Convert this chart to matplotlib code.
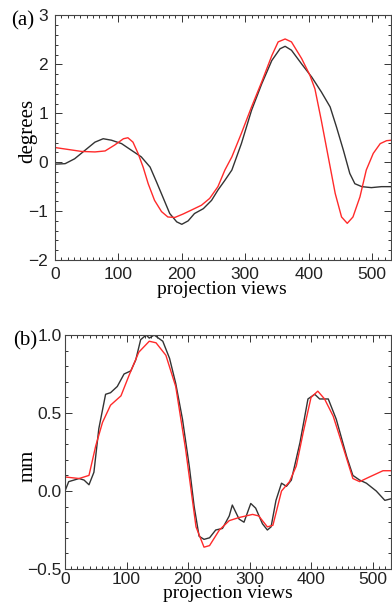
import matplotlib
matplotlib.use("Agg")
import matplotlib.pyplot as plt
from matplotlib.ticker import MultipleLocator

# ---- Panel (a): degrees ----
a_black_x = [0, 16, 31, 47, 63, 76, 89, 105, 121, 136, 150, 160, 171, 181, 192, 200, 210,
             220, 234, 247, 257, 268, 279, 294, 310, 326, 342, 355, 363, 373, 389, 405, 420,
             434, 444, 455, 465, 473, 484, 499, 515, 531]
a_black_y = [-0.04, -0.03, 0.07, 0.24, 0.41, 0.48, 0.45, 0.38, 0.24, 0.11, -0.1, -0.4, -0.74,
             -1.05, -1.22, -1.27, -1.2, -1.05, -0.95, -0.78, -0.57, -0.37, -0.16, 0.38, 1.06,
             1.6, 2.08, 2.32, 2.37, 2.29, 2.01, 1.74, 1.44, 1.13, 0.72, 0.24, -0.23, -0.44,
             -0.5, -0.52, -0.5, -0.5]
a_red_x = [0, 21, 42, 63, 79, 94, 108, 115, 123, 131, 139, 147, 157, 168, 178, 189, 202, 215,
           231, 244, 257, 268, 279, 294, 310, 326, 342, 352, 363, 373, 389, 402, 410, 420,
           431, 442, 452, 461, 470, 481, 491, 502, 513, 523, 531]
a_red_y = [0.3, 0.26, 0.22, 0.21, 0.23, 0.35, 0.48, 0.5, 0.41, 0.18, -0.1, -0.44, -0.78,
           -1.01, -1.12, -1.13, -1.06, -0.98, -0.88, -0.74, -0.5, -0.16, 0.11, 0.59, 1.13,
           1.64, 2.18, 2.46, 2.52, 2.46, 2.12, 1.78, 1.5, 0.86, 0.11, -0.64, -1.12, -1.25,
           -1.12, -0.71, -0.16, 0.18, 0.38, 0.44, 0.45]

# ---- Panel (b): mm ----
b_black_x = [0, 6, 23, 31, 39, 47, 55, 66, 74, 85, 96, 107, 115, 123, 132, 137, 145, 159,
             170, 180, 191, 202, 210, 218, 226, 235, 245, 256, 267, 272, 283, 291, 302, 310,
             321, 329, 335, 343, 352, 360, 368, 382, 395, 406, 414, 428, 441, 458, 468, 479,
             490, 506, 520, 530]
b_black_y = [0.0, 0.06, 0.08, 0.07, 0.04, 0.12, 0.4, 0.62, 0.63, 0.67, 0.75, 0.77, 0.84,
             0.97, 1.0, 0.98, 1.0, 0.96, 0.85, 0.69, 0.46, 0.16, -0.1, -0.29, -0.31, -0.3,
             -0.25, -0.24, -0.16, -0.09, -0.18, -0.2, -0.08, -0.11, -0.21, -0.25, -0.23,
             -0.06, 0.05, 0.03, 0.07, 0.31, 0.59, 0.62, 0.59, 0.59, 0.46, 0.22, 0.1, 0.07,
             0.05, 0.0, -0.06, -0.05]
b_red_x = [0, 23, 39, 50, 61, 74, 91, 104, 120, 137, 148, 164, 180, 196, 213, 226, 235, 251,
           267, 283, 305, 315, 329, 338, 352, 365, 376, 387, 400, 411, 422, 436, 453, 468,
           479, 495, 517, 530]
b_red_y = [0.09, 0.08, 0.1, 0.29, 0.44, 0.55, 0.61, 0.74, 0.89, 0.96, 0.95, 0.87, 0.67,
           0.27, -0.23, -0.36, -0.35, -0.25, -0.19, -0.17, -0.15, -0.16, -0.23, -0.22, 0.0,
           0.06, 0.16, 0.37, 0.6, 0.64, 0.59, 0.48, 0.27, 0.08, 0.06, 0.09, 0.13, 0.13]

x_ticks = [0, 100, 200, 300, 400, 500]
a_yticks = [-2, -1, 0, 1, 2, 3]
b_yticks = [-0.5, 0.0, 0.5, 1.0]

serif = ["Liberation Serif", "DejaVu Serif"]
sans = ["Liberation Sans", "DejaVu Sans"]

fig = plt.figure(figsize=(3.92, 6.14), dpi=100)
W, H = 392, 614

def make_ax(l, r, t, b):
    return fig.add_axes([l / W, 1 - b / H, (r - l) / W, (b - t) / H])

axA = make_ax(55, 391, 15.5, 260)
axB = make_ax(65, 391, 335, 569)

BLACK = "#333333"
RED = "#ff2a2a"

axA.plot(a_black_x, a_black_y, color=BLACK, lw=1.0)
axA.plot(a_red_x, a_red_y, color=RED, lw=1.0)
axB.plot(b_black_x, b_black_y, color=BLACK, lw=1.0)
axB.plot(b_red_x, b_red_y, color=RED, lw=1.0)

for ax, xpad, ypad in ((axA, 5, 5), (axB, 2, 2.5)):
    ax.set_xlim(0, 530)
    ax.set_xticks(x_ticks)
    ax.xaxis.set_minor_locator(MultipleLocator(10))
    ax.tick_params(which="both", direction="in", top=True, right=True, colors="#333333",
                   labelcolor="#222222", labelsize=12.5, width=0.7)
    ax.tick_params(which="major", length=5)
    ax.tick_params(which="minor", length=2.5)
    ax.tick_params(axis="x", which="major", pad=xpad)
    ax.tick_params(axis="y", which="major", pad=ypad)
    for s in ax.spines.values():
        s.set_color("#444444")
        s.set_linewidth(0.8)

axA.set_ylim(-2, 3)
axA.set_yticks(a_yticks)
axA.set_yticklabels([str(v).replace("-", "\u2212") for v in a_yticks], family=sans)
axA.set_xticklabels([str(v) for v in x_ticks], family=sans)
axA.yaxis.set_minor_locator(MultipleLocator(0.2))

axB.set_ylim(-0.5, 1.0)
axB.set_yticks(b_yticks)
axB.set_yticklabels([("%.1f" % v).replace("-", "\u2212") for v in b_yticks], family=sans)
axB.set_xticklabels([str(v) for v in x_ticks], family=sans)
axB.yaxis.set_minor_locator(MultipleLocator(0.1))

def ftext(x, y, s, **kw):
    fig.text(x / W, 1 - y / H, s, **kw)

ftext(28, 131, "degrees", family=serif, fontsize=15, rotation=90, ha="center", va="center")
ftext(28, 466, "mm", family=serif, fontsize=15, rotation=90, ha="center", va="center")
ftext(222, 290, "projection views", family=serif, fontsize=14, ha="center", va="center")
ftext(228, 594, "projection views", family=serif, fontsize=14, ha="center", va="center")
ftext(23, 21, "(a)", family=serif, fontsize=15, ha="center", va="center")
ftext(25, 341, "(b)", family=serif, fontsize=15, ha="center", va="center")

fig.savefig("out.png", dpi=100)
